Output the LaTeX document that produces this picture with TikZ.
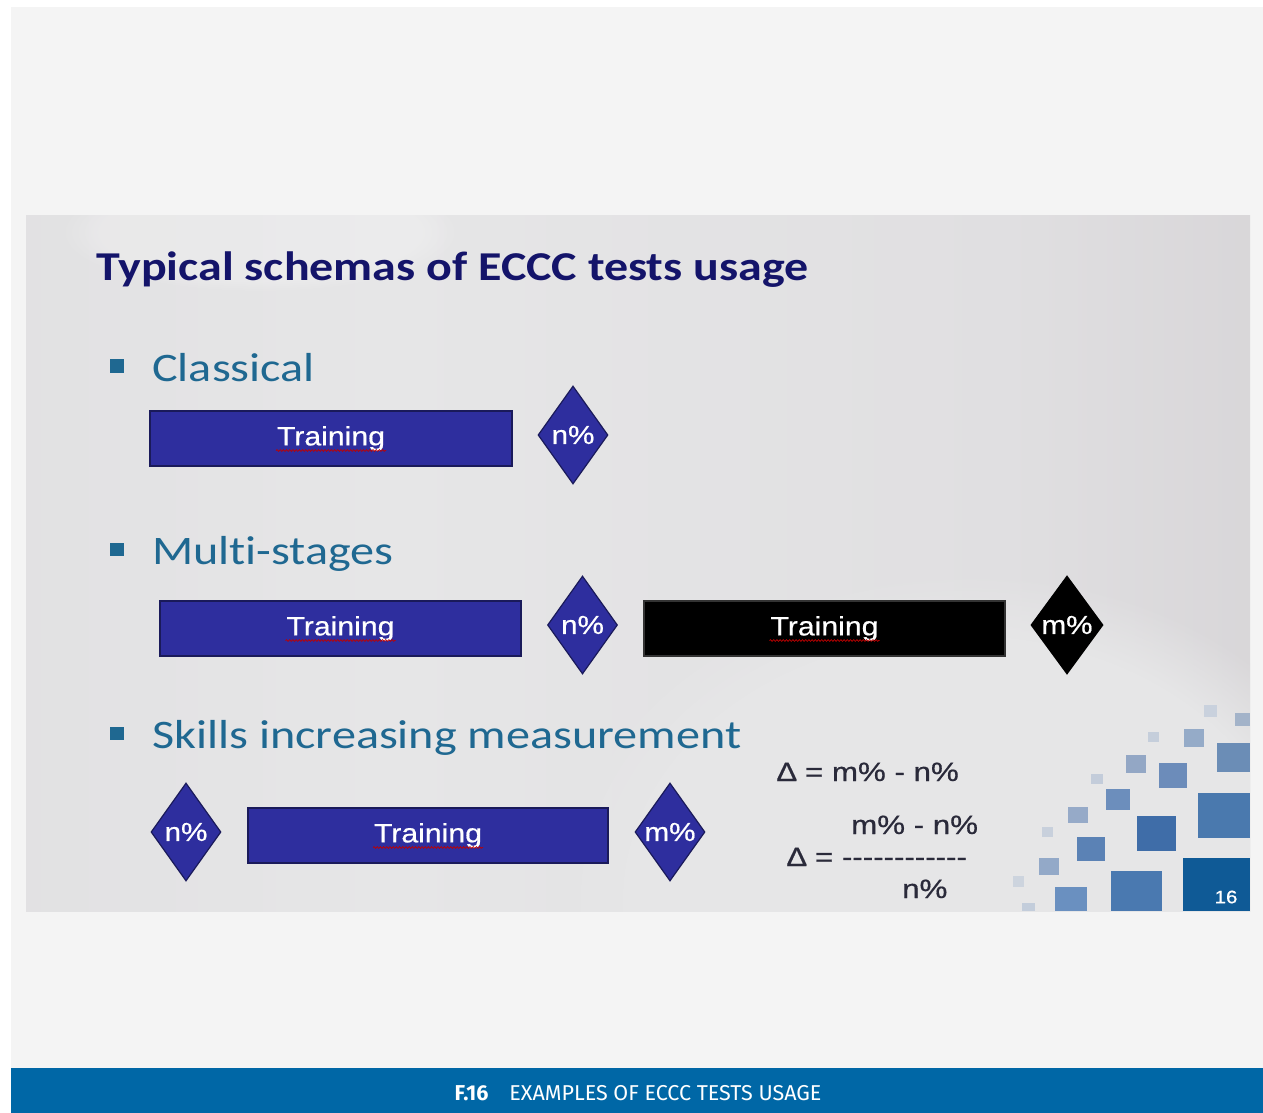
\documentclass[tikz,border=0pt]{standalone}
\usepackage{fontspec}
\usetikzlibrary{shapes.geometric,decorations.pathmorphing,fadings}
\newfontfamily\slidesans[FakeStretch=1.14,FakeBold=0.6]{Liberation Sans}
\newfontfamily\formsans[FakeStretch=1.18,FakeBold=0.6]{Liberation Sans}
\newfontfamily\slidecal[FakeStretch=1.19,Ligatures=NoCommon]{Carlito}
\newfontfamily\titlecal[FakeStretch=1.17,Ligatures=NoCommon]{Carlito}
\newfontfamily\capfont{Fira Sans}
\definecolor{pagegray}{HTML}{F4F4F4}
\definecolor{capblue}{HTML}{0067A6}
\definecolor{boxblue}{RGB}{46,46,158}
\definecolor{boxedge}{RGB}{26,26,90}
\definecolor{titlenavy}{RGB}{20,20,106}
\definecolor{bullteal}{RGB}{31,104,145}
\definecolor{formgray}{RGB}{42,42,58}
\definecolor{bgA}{HTML}{CECCCE}
\definecolor{bgA2}{HTML}{DDDCDE}
\definecolor{bgB}{HTML}{E6E6E7}
\definecolor{bgB2}{HTML}{E0DFE1}
\definecolor{bgC2}{HTML}{D1CED1}
\definecolor{bgC}{HTML}{C3BFC3}
\definecolor{bgLight}{HTML}{E6E6E7}
\definecolor{numblue}{HTML}{0F5A96}
\pgfdeclarehorizontalshading{slidebg}{100bp}{color(0bp)=(bgA); color(8bp)=(bgA2); color(40bp)=(bgB); color(65bp)=(bgB2); color(85bp)=(bgC2); color(100bp)=(bgC)}
\newcommand\dashrow{-\kern0pt-\kern0pt-\kern0pt-\kern0pt-\kern0pt-\kern0pt-\kern0pt-\kern0pt-\kern0pt-\kern0pt-\kern0pt-}
\begin{document}
\begin{tikzpicture}[x=1bp,y=-1bp,
  trainbox/.style={draw=boxedge, line width=1.5bp, fill=boxblue, text=white,
    minimum width=#1, minimum height=55bp, inner sep=0pt,
    font=\slidesans\fontsize{26.5bp}{30bp}\selectfont},
  trainbox/.default=361bp,
  diam/.style={diamond, draw=boxedge, line width=1.2bp, fill=boxblue, text=white,
    minimum width=70bp, minimum height=98bp, inner sep=0pt,
    font=\slidesans\fontsize{26bp}{30bp}\selectfont},
  bulletsq/.style={fill=bullteal, draw=none},
  bullettext/.style={anchor=base west, inner sep=0pt, text=bullteal,
    font=\slidecal\fontsize{40.5bp}{46bp}\selectfont},
  formula/.style={anchor=base west, inner sep=0pt, text=formgray,
    font=\formsans\fontsize{26.5bp}{30bp}\selectfont},
  squig/.style={draw=red!75!black, line width=0.7bp,
    decorate, decoration={snake, amplitude=0.9bp, segment length=3.2bp}},
  deco/.style={draw=none}
]
% page
\useasboundingbox (0,0) rectangle (1263,1113);
\fill[white] (0,0) rectangle (1263,1113);
\fill[pagegray] (11,7) rectangle (1263,1068);
\fill[capblue] (11,1068) rectangle (1263,1113);
\node[text=white, font=\capfont\fontsize{21.5bp}{24bp}\selectfont, anchor=base] (cap) at (638,1100)
  {{\bfseries F.16}\hspace{21bp}EXAMPLES OF ECCC TESTS USAGE};
% slide
\shade[shading=slidebg] (26,215) rectangle (1250,911);
\begin{scope}
\clip (26,215) rectangle (1250,911);
\fill[bgLight, path fading=circle with fuzzy edge 20 percent] (960,900) ellipse [x radius=420, y radius=330];
\fill[white, opacity=0.22, path fading=circle with fuzzy edge 20 percent] (260,232) ellipse [x radius=200, y radius=60];
% decorative squares
\fill[deco, fill={rgb,255:red,201;green,209;blue,221}] (1204,705) rectangle (1217,717);
\fill[deco, fill={rgb,255:red,163;green,179;blue,201}] (1235,713) rectangle (1250,726);
\fill[deco, fill={rgb,255:red,197;green,206;blue,219}] (1148,732) rectangle (1159,742);
\fill[deco, fill={rgb,255:red,149;green,171;blue,200}] (1184,729) rectangle (1204,747);
\fill[deco, fill={rgb,255:red,107;green,141;blue,182}] (1217,743) rectangle (1250,772);
\fill[deco, fill={rgb,255:red,147;green,167;blue,197}] (1126,755) rectangle (1146,773);
\fill[deco, fill={rgb,255:red,108;green,140;blue,186}] (1159,763) rectangle (1187,788);
\fill[deco, fill={rgb,255:red,195;green,204;blue,218}] (1091,774) rectangle (1103,784);
\fill[deco, fill={rgb,255:red,108;green,142;blue,188}] (1106,789) rectangle (1130,810);
\fill[deco, fill={rgb,255:red,74;green,121;blue,174}] (1198,793) rectangle (1250,838);
\fill[deco, fill={rgb,255:red,150;green,170;blue,200}] (1068,807) rectangle (1088,823);
\fill[deco, fill={rgb,255:red,63;green,109;blue,168}] (1137,816) rectangle (1176,851);
\fill[deco, fill={rgb,255:red,200;green,208;blue,220}] (1042,827) rectangle (1053,837);
\fill[deco, fill={rgb,255:red,91;green,130;blue,181}] (1077,837) rectangle (1105,861);
\fill[deco, fill={rgb,255:red,147;green,169;blue,200}] (1039,858) rectangle (1059,875);
\fill[deco, fill={rgb,255:red,74;green,121;blue,176}] (1111,871) rectangle (1162,911);
\fill[deco, fill={rgb,255:red,205;green,212;blue,222}] (1013,876) rectangle (1024,887);
\fill[deco, fill={rgb,255:red,106;green,144;blue,192}] (1055,887) rectangle (1087,911);
\fill[deco, fill={rgb,255:red,195;green,205;blue,219}] (1022,903) rectangle (1035,911);
\end{scope}
\node[fill=numblue, minimum width=67bp, minimum height=53bp, inner sep=0pt, anchor=north west] (numsq) at (1183,858) {};
\node[text=white, font=\slidesans\fontsize{18bp}{20bp}\selectfont, inner sep=0pt] (num) at (1226,897) {16};
% title
\node[anchor=base west, inner sep=0pt, text=titlenavy, font=\titlecal\bfseries\fontsize{41bp}{48bp}\selectfont] (title) at (96,280)
  {Typical schemas of ECCC tests usage};
% bullets
\fill[bulletsq] (110,359) rectangle (124,373);
\node[bullettext] (b1) at (152,381) {Classical};
\fill[bulletsq] (110,543) rectangle (124,556);
\node[bullettext] (b2) at (152,564) {Multi-stages};
\fill[bulletsq] (110,727) rectangle (124,740);
\node[bullettext] (b3) at (152,748) {Skills increasing measurement};
% classical
\node[trainbox=362bp] (trA) at (331,438.5) {Training};
\node[diam] (dA) at (573,435) {n\%};
% multi-stages
\node[trainbox] (trB) at (340.5,628.5) {Training};
\node[diam] (dB) at (582.5,625) {n\%};
\node[trainbox, fill=black, draw=black!80] (trC) at (824.5,628.5) {Training};
\node[diam, fill=black, draw=black, minimum width=72bp] (dC) at (1067,625) {m\%};
% skills
\node[diam] (dD) at (186,832) {n\%};
\node[trainbox=360bp] (trD) at (428,835.5) {Training};
\node[diam] (dE) at (670,832) {m\%};
% spell-check squiggles
\foreach \t in {trA,trB,trC,trD}{
  \draw[squig] ([xshift=-55bp,yshift=-12bp]\t.center) -- ([xshift=55bp,yshift=-12bp]\t.center);
}
% formulas
\node[formula] (f1) at (777,781) {∆ = m\% - n\%};
\node[formula] (f2) at (851,834) {m\% - n\%};
\node[formula] (f3) at (787,866) {∆ = \dashrow};
\node[formula] (f4) at (902,898) {n\%};
\end{tikzpicture}
\end{document}
